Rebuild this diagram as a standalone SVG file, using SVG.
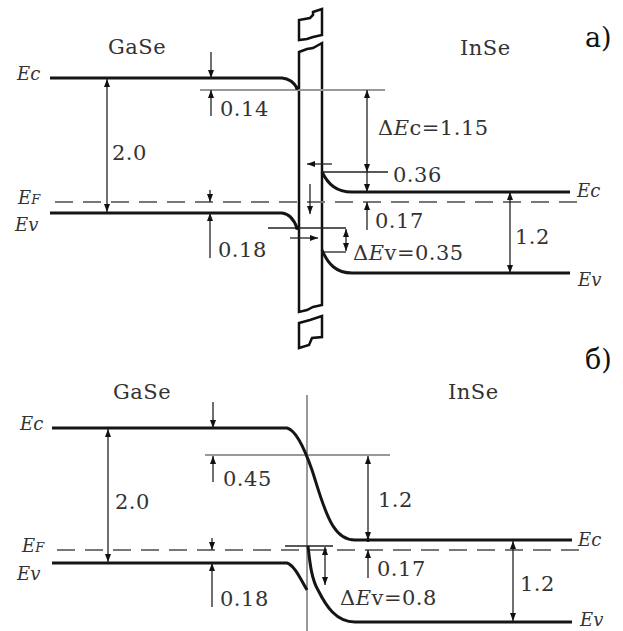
<svg xmlns="http://www.w3.org/2000/svg" width="623" height="631" viewBox="0 0 623 631">
<style>
.band{fill:none;stroke:#151515;stroke-width:3;stroke-linejoin:round}
.ref{fill:none;stroke:#999;stroke-width:2}
.thin{fill:none;stroke:#222;stroke-width:1.3}
.dash{fill:none;stroke:#777;stroke-width:2;stroke-dasharray:18 10}
.bar{fill:#fff;stroke:#111;stroke-width:2.5;stroke-linejoin:miter}
.t{font-size:21px;fill:#333;letter-spacing:0.5px}
.lab{font-size:18px;font-style:italic;fill:#333}
.big{font-size:27px;fill:#111}
.one{marker-end:url(#ah)}
.two{marker-end:url(#ah);marker-start:url(#ah)}
</style>
<defs>
<marker id="ah" viewBox="0 0 8 6" refX="8" refY="3" markerWidth="8" markerHeight="6" markerUnits="userSpaceOnUse" orient="auto-start-reverse">
<path d="M0,0 L8,3 L0,6 z" fill="#111"/>
</marker>
</defs>
<rect width="623" height="631" fill="#fff"/>

<!-- Panel a -->
<g id="panel-a">
<g id="a-barrier">
<path class="bar" d="M299,52 L307,49 L313,48 L322,43 L322,305 L313,307 L307,310 L299,312 Z"/>
<path class="bar" d="M299,40 L299,20 L310,18 L313,15 L313,12 L322,9 L322,35 L313,37 L307,39 Z"/>
<path class="bar" d="M299,323 L310,320 L322,316 L322,337 L312,338 L309,345 L299,348 Z"/>
</g>
<g id="a-refs">
<line class="ref" x1="200" y1="90" x2="385" y2="90"/>
<line class="dash" x1="55" y1="202" x2="582" y2="202"/>
<line class="thin" x1="322" y1="172" x2="388" y2="172"/>
<line class="thin" x1="268" y1="228" x2="346" y2="228"/>
<line class="thin" x1="322" y1="252" x2="346" y2="252"/>
</g>
<g id="a-gase-ec"><path class="band" d="M50,78 L282,78 Q292,79 297,88"/><circle cx="297" cy="88" r="2" fill="#111"/></g>
<g id="a-gase-ev"><path class="band" d="M50,213 L282,213 Q292,214 297,228"/><circle cx="297" cy="228" r="2" fill="#111"/></g>
<g id="a-inse-ec"><path class="band" d="M322,172 C328,184 336,192 352,192 L570,192"/></g>
<g id="a-inse-ev"><path class="band" d="M322,250 C328,264 336,273 352,273 L570,273"/></g>
<g id="a-connectors">
<line class="thin two" x1="107" y1="79" x2="107" y2="212"/>
<line class="thin one" x1="211" y1="52" x2="211" y2="78"/>
<line class="thin one" x1="211" y1="116" x2="211" y2="90"/>
<line class="thin one" x1="210" y1="190" x2="210" y2="202"/>
<line class="thin one" x1="210" y1="258" x2="210" y2="213"/>
<line class="thin two" x1="367" y1="90" x2="367" y2="172"/>
<line class="thin one" x1="367" y1="172" x2="367" y2="192"/>
<line class="thin one" x1="367" y1="230" x2="367" y2="202"/>
<line class="thin two" x1="510" y1="192" x2="510" y2="273"/>
<line class="thin one" x1="332" y1="164" x2="307" y2="164"/>
<line class="thin one" x1="310" y1="184" x2="310" y2="214"/>
<line class="thin one" x1="290" y1="238" x2="318" y2="238"/>
<line class="thin two" x1="346" y1="229" x2="346" y2="251"/>
</g>
<g id="a-texts" font-family="DejaVu Serif, serif">
<text class="t" x="108" y="54">GaSe</text>
<text class="t" x="460" y="55">InSe</text>
<text class="big" x="585" y="47">a)</text>
<text class="lab" x="17" y="80">Ec</text>
<text class="lab" x="18" y="204">E<tspan font-size="13">F</tspan></text>
<text class="lab" x="15" y="231">Ev</text>
<text class="t" x="220" y="116">0.14</text>
<text class="t" x="112" y="160">2.0</text>
<text class="t" x="218" y="257">0.18</text>
<text class="t" x="378" y="135">Δ<tspan font-style="italic">E</tspan>c=1.15</text>
<text class="t" x="393" y="182">0.36</text>
<text class="t" x="375" y="228">0.17</text>
<text class="t" x="515" y="244">1.2</text>
<text class="t" x="353" y="260">Δ<tspan font-style="italic">E</tspan>v=0.35</text>
<text class="lab" x="577" y="197">Ec</text>
<text class="lab" x="578" y="286">Ev</text>
</g>
</g>

<!-- Panel b -->
<g id="panel-b">
<g id="b-refs">
<line class="ref" x1="307" y1="395" x2="307" y2="631"/>
<line class="ref" x1="205" y1="455" x2="390" y2="455"/>
<line class="dash" x1="57" y1="550" x2="582" y2="550"/>
<line class="thin" x1="285" y1="546" x2="333" y2="546"/>
</g>
<g id="b-gase-ec"><path class="band" d="M52,428 L287,428 C296,430 305,450 312,470 C318,488 324,512 333,526 C338,534 344,540 355,540 L572,540"/></g>
<g id="b-gase-ev"><path class="band" d="M52,563 L287,563 C294,565 300,578 307,590"/></g>
<g id="b-inse-ev"><path class="band" d="M308,546 C310,565 312,580 318,590 C326,606 336,622 355,622 L572,622"/></g>
<g id="b-connectors">
<line class="thin two" x1="108" y1="429" x2="108" y2="562"/>
<line class="thin one" x1="213" y1="402" x2="213" y2="428"/>
<line class="thin one" x1="213" y1="482" x2="213" y2="456"/>
<line class="thin one" x1="212" y1="538" x2="212" y2="550"/>
<line class="thin one" x1="212" y1="607" x2="212" y2="563"/>
<line class="thin two" x1="368" y1="456" x2="368" y2="540"/>
<line class="thin one" x1="368" y1="578" x2="368" y2="550"/>
<circle cx="368" cy="540" r="2" fill="#111"/>
<line class="thin two" x1="513" y1="541" x2="513" y2="621"/>
<line class="thin two" x1="325" y1="547" x2="325" y2="585"/>
</g>
<g id="b-texts" font-family="DejaVu Serif, serif">
<text class="t" x="113" y="399">GaSe</text>
<text class="t" x="448" y="399">InSe</text>
<text class="big" x="585" y="369">б)</text>
<text class="lab" x="20" y="430">Ec</text>
<text class="lab" x="22" y="552">E<tspan font-size="13">F</tspan></text>
<text class="lab" x="17" y="580">Ev</text>
<text class="t" x="223" y="486">0.45</text>
<text class="t" x="115" y="509">2.0</text>
<text class="t" x="220" y="606">0.18</text>
<text class="t" x="378" y="507">1.2</text>
<text class="t" x="377" y="576">0.17</text>
<text class="t" x="520" y="591">1.2</text>
<text class="t" x="340" y="605">Δ<tspan font-style="italic">E</tspan>v=0.8</text>
<text class="lab" x="578" y="546">Ec</text>
<text class="lab" x="580" y="626" font-size="16">Ev</text>
</g>
</g>
</svg>
